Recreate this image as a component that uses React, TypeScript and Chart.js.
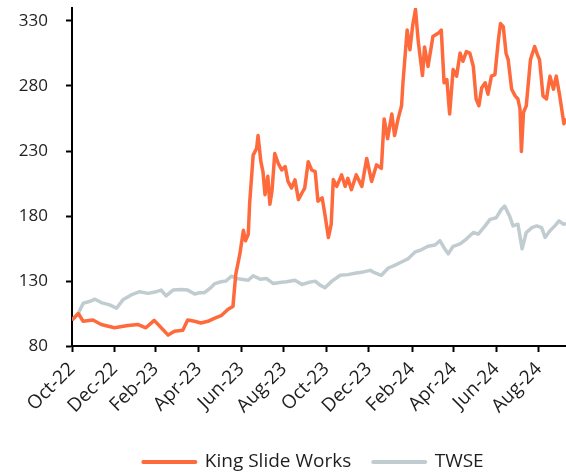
import { useEffect, useRef } from 'react';
import { Chart, registerables } from 'chart.js';

Chart.register(...registerables);

// x values are days counted from the first observation (axis start, labelled Oct-22)
const tickDays = [0, 61, 120, 182, 243, 304, 365, 426, 488, 548, 609, 670];
const tickLabels = ['Oct-22', 'Dec-22', 'Feb-23', 'Apr-23', 'Jun-23', 'Aug-23', 'Oct-23', 'Dec-23', 'Feb-24', 'Apr-24', 'Jun-24', 'Aug-24'];
const yTicks = [80, 130, 180, 230, 280, 330];
const lastDay = 709;

const ksDays = [
  0, 9, 16, 30, 42, 61, 80, 95, 106, 118,
  126, 138, 147, 159, 166, 176, 185, 195, 205, 214,
  224, 231, 235, 241, 246, 249, 253, 255, 260, 265,
  267, 271, 274, 277, 281, 284, 287, 291, 296, 301,
  306, 310, 315, 320, 325, 330, 334, 339, 344, 349,
  353, 359, 363, 368, 372, 375, 380, 387, 392, 396,
  401, 408, 416, 423, 430, 437, 444, 448, 453, 459,
  463, 468, 473, 475, 481, 485, 489, 493, 497, 503,
  506, 511, 518, 526, 530, 534, 538, 542, 547, 552,
  557, 561, 566, 571, 576, 580, 584, 588, 593, 597,
  602, 607, 612, 615, 619, 623, 626, 631, 636, 640,
  643, 645, 648, 652, 658, 664, 668, 671, 676, 681,
  686, 691, 695, 700, 706, 709,
];
const ksValues = [
  100, 105, 99, 100, 96.5, 94, 95.7, 96.5, 94, 99.7,
  95.2, 88.4, 91.4, 92.2, 100, 99, 97.7, 99, 101.5, 103.3,
  108.3, 110.4, 135, 151, 169, 161, 166, 190, 226.8, 232,
  242, 222, 214.4, 196.4, 210.6, 189, 199, 228, 220.5, 215.4,
  218, 206.6, 201.5, 207.8, 192.6, 197.7, 201.5, 221.8, 215.4, 214.2,
  191.4, 194, 181.2, 163.5, 173.6, 208, 202.8, 211.6, 202.8, 209,
  200.3, 211.6, 202.8, 224.3, 206.6, 219.3, 216.7, 254.7, 239.5, 258.5,
  242, 254.7, 264.8, 282.5, 323, 307.8, 326.8, 339, 314, 288,
  310, 295, 318, 320.7, 323, 282.5, 285, 258.5, 292.7, 287.6,
  305.3, 299, 306.5, 305.3, 295, 270, 264.8, 278.7, 282.5, 273.7,
  287.6, 288.8, 315.8, 328, 325.6, 305, 300.3, 277.5, 272.4, 270,
  262.3, 229.6, 259.7, 264.8, 300.3, 310.4, 304, 300.3, 272.4, 270,
  287.6, 277.5, 287.6, 272.4, 251, 255,
];

const twDays = [
  0, 9, 16, 25, 33, 42, 54, 64, 73, 85,
  97, 109, 121, 128, 135, 145, 157, 166, 176, 183,
  190, 198, 205, 214, 221, 229, 236, 243, 253, 260,
  270, 279, 289, 298, 308, 320, 330, 339, 349, 356,
  363, 373, 385, 396, 408, 418, 428, 435, 444, 454,
  463, 473, 482, 492, 502, 511, 521, 528, 535, 540,
  547, 557, 566, 576, 583, 593, 600, 609, 616, 621,
  628, 633, 640, 646, 652, 660, 667, 674, 679, 686,
  693, 699, 705, 709,
];
const twValues = [
  100, 105, 112.9, 114.2, 116, 113.4, 111.6, 109, 115.5, 119.3,
  121.8, 120.5, 121.8, 123, 118.5, 123, 123.5, 123, 120, 121,
  121, 124.3, 128, 129.4, 130, 133.7, 132, 131.4, 130.6, 134,
  131.4, 131.9, 128, 128.8, 129.4, 130.6, 127.3, 128.8, 129.9, 126.8,
  124.8, 129.9, 134.4, 134.9, 136.2, 137, 138.2, 136.2, 134.4, 140,
  142, 144.6, 147, 152.2, 154.2, 156.7, 157.7, 161, 154.7, 150.9,
  156.7, 158.5, 162.3, 167.3, 166, 172.4, 177.4, 178.7, 185, 187.6,
  180, 172.4, 173.7, 154.7, 167.3, 171.1, 172.4, 171.1, 163.5, 168.6,
  172.4, 176.2, 173.7, 174,
];

const ORANGE = '#FF6A3D';
const GREY = '#C1CCD1';
const TEXT = '#1e1e1e';
const FONT = 'Open Sans';

function pairs(xs: number[], ys: number[]) {
  const n = Math.min(xs.length, ys.length);
  const out: { x: number; y: number }[] = [];
  for (let i = 0; i < n; i++) out.push({ x: xs[i], y: ys[i] });
  return out;
}

// nudge the legend row slightly left, as in the reference
const legendShift = {
  id: 'legendShift',
  afterLayout(c: any) {
    if (c.legend) c.legend.left -= 11;
  },
};

export default function App() {
  const ref = useRef<HTMLCanvasElement>(null);
  useEffect(() => {
    const canvas = ref.current;
    if (!canvas) return;
    const chart = new Chart(canvas, {
      type: 'line',
      plugins: [legendShift],
      data: {
        datasets: [
          {
            label: 'King Slide Works',
            data: pairs(ksDays, ksValues),
            borderColor: ORANGE,
            backgroundColor: ORANGE,
            borderWidth: 3.5,
            pointRadius: 0,
            tension: 0,
            borderJoinStyle: 'round',
          },
          {
            label: 'TWSE',
            data: pairs(twDays, twValues),
            borderColor: GREY,
            backgroundColor: GREY,
            borderWidth: 3.5,
            pointRadius: 0,
            tension: 0,
            borderJoinStyle: 'round',
          },
        ],
      },
      options: {
        responsive: false,
        animation: false,
        layout: { padding: { top: 8, left: 0, right: 0, bottom: -9.5 } },
        plugins: {
          tooltip: { enabled: false },
          legend: {
            position: 'bottom',
            fullSize: false,
            labels: {
              usePointStyle: true,
              pointStyle: 'line',
              pointStyleWidth: 52,
              padding: 22,
              color: TEXT,
              font: { family: FONT, size: 19 },
              generateLabels: (c: any) =>
                Chart.defaults.plugins.legend.labels
                  .generateLabels(c)
                  .map((l: any) => ({ ...l, lineWidth: 4, lineCap: 'round' })),
            },
          },
        },
        scales: {
          x: {
            type: 'linear',
            min: 0,
            max: lastDay,
            afterBuildTicks: (s: any) => {
              s.ticks = tickDays.map((v) => ({ value: v }));
            },
            afterFit: (s: any) => {
              s.height = 84.5;
              s.paddingLeft = 0;
              s.paddingRight = 0;
            },
            ticks: {
              autoSkip: false,
              maxRotation: 45,
              minRotation: 45,
              padding: 6,
              color: TEXT,
              font: { family: FONT, size: 19 },
              callback: (_v: any, i: number) => tickLabels[i],
            },
            grid: { drawOnChartArea: false, tickLength: 6, tickWidth: 2, tickColor: '#000' },
            border: { color: '#000', width: 2 },
          },
          y: {
            min: 80,
            max: 340,
            afterBuildTicks: (s: any) => {
              s.ticks = yTicks.map((v) => ({ value: v }));
            },
            afterFit: (s: any) => {
              s.width = 72;
              s.paddingTop = 0;
              s.paddingBottom = 0;
            },
            ticks: {
              padding: 18,
              color: TEXT,
              font: { family: FONT, size: 17 },
            },
            grid: { drawOnChartArea: false, tickLength: 6, tickWidth: 2, tickColor: '#000' },
            border: { color: '#000', width: 2 },
          },
        },
      },
    });
    return () => chart.destroy();
  }, []);
  return (
    <canvas
      ref={ref}
      width={566}
      height={472}
      style={{ position: 'absolute', left: 0, top: 0, width: 566, height: 472 }}
    />
  );
}
